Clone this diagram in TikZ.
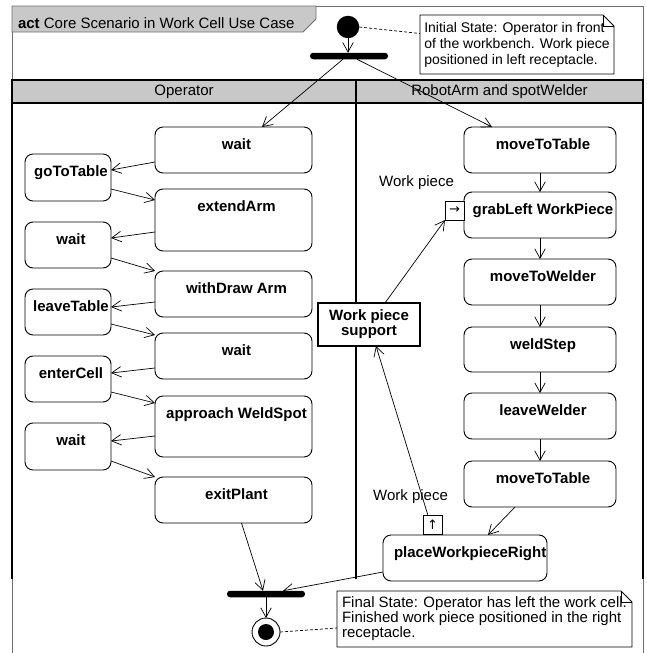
\documentclass[tikz,border=0pt]{standalone}
\usepackage{fontspec}
\setmainfont{Liberation Sans}
\newfontfamily\symfont{DejaVu Sans}
\usetikzlibrary{arrows.meta,calc}
\definecolor{hdrgray}{RGB}{200,200,200}
\definecolor{framegray}{RGB}{110,110,110}
\newcommand\act[6]{%
  \node[actbox, minimum width=#4pt, minimum height=#5pt] (#1) at (#2,#3) {};
  \node[acttxt] (#1-t) at ([xshift=3pt,yshift=-22.5pt]#1.north) {#6};}
\begin{document}
\begin{tikzpicture}[x=1pt,y=-1pt,
  every node/.style={font=\fontsize{15}{15}\selectfont, inner sep=0pt, outer sep=0pt},
  actbox/.style={draw, rounded corners=8pt, line width=0.9pt, anchor=north west, fill=white},
  acttxt/.style={font=\fontsize{15}{15}\selectfont\bfseries, anchor=base},
  arr/.style={-{Straight Barb[length=9.5pt,width=10.5pt]}, line width=0.7pt},
  lanel/.style={line width=2.4pt, line cap=rect},
  notel/.style={line width=0.8pt},
  pinbox/.style={draw, fill=white, line width=0.8pt, minimum size=19pt, font=\fontsize{13}{13}\symfont},
  barnode/.style={fill=black, rounded corners=3pt, minimum height=6.5pt},
  flowdash/.style={line width=0.7pt, dash pattern=on 3pt off 2pt}]
\useasboundingbox (0,0) rectangle (647,653);
% frame and title tab
\draw[framegray, line width=0.9pt] (12,653) -- (12,6) -- (643,6) -- (643,653);
\filldraw[fill=hdrgray, draw=framegray, line width=0.9pt] (12,6) -- (316,6) -- (316,19) -- (303,32) -- (12,32) -- cycle;
\node[anchor=base west] (title) at (18,28) {\textbf{act} Core Scenario in Work Cell Use Case};
% swimlanes
\fill[hdrgray] (12,80) rectangle (643,103);
\node (h-op) at (184,92) {Operator};
\node (h-rb) at (499.5,92) {RobotArm and spotWelder};
\draw[lanel] (12,578) -- (12,80) -- (643,80) -- (643,578);
\draw[lanel] (12,103) -- (643,103);
\draw[lanel] (356,80) -- (356,578);
% initial, fork
\node[circle, fill=black, minimum size=22.5pt] (init) at (348,27) {};
\node[barnode, minimum width=78pt] (fork) at (349,56) {};
% top note
\node[anchor=north west, minimum width=194pt, minimum height=59pt, align=left, fill=white,
  font=\fontsize{14}{16}\selectfont] (note1) at (420,15)
  {Initial State: Operator in front\\of the workbench. Work piece\\positioned in left receptacle.};
\draw[notel] (note1.north west) -- ([xshift=-11pt]note1.north east) -- ([yshift=-11pt]note1.north east) -- (note1.south east) -- (note1.south west) -- cycle;
\draw[notel] ([xshift=-11pt]note1.north east) -- ([xshift=-11pt,yshift=-11pt]note1.north east) -- ([yshift=-11pt]note1.north east);
\draw[flowdash] (init.east) -- ([yshift=11pt]note1.west);
% operator lane
\act{wR1}{155}{127}{157}{46}{wait}
\act{ext}{155}{189}{157}{62}{extendArm}
\act{wd}{155}{271}{157}{46}{withDraw Arm}
\act{wR2}{155}{333}{157}{46}{wait}
\act{app}{155}{396}{157}{61}{approach WeldSpot}
\act{exit}{155}{477}{157}{46}{exitPlant}
\act{gtt}{25}{154}{86}{47}{goToTable}
\act{wL1}{25}{222}{86}{46}{wait}
\act{lt}{25}{289}{86}{46}{leaveTable}
\act{ec}{25}{356}{86}{46}{enterCell}
\act{wL2}{25}{423}{86}{47}{wait}
% robot lane
\act{mtt}{464}{127}{152}{46}{moveToTable}
\act{grab}{464}{192}{152}{46}{grabLeft WorkPiece}
\act{mtw}{464}{259}{152}{46}{moveToWelder}
\act{weld}{464}{327}{152}{45}{weldStep}
\act{lw}{464}{393}{152}{46}{leaveWelder}
\act{mtt2}{464}{461}{152}{46}{moveToTable}
\node[actbox, minimum width=164pt, minimum height=46pt] (pwr) at (383,535) {};
\node[acttxt, anchor=base west] (pwr-t) at ([xshift=11pt,yshift=-22.5pt]pwr.north west) {placeWorkpieceRight};
% object node and pins
\node[draw, fill=white, line width=1.2pt, minimum width=102pt, minimum height=43pt, align=center,
  font=\fontsize{15}{15}\selectfont\bfseries] (sup) at (369,324.5) {Work piece\\support};
\node[pinbox] (pin1) at (454.5,210.5) {→};
\node[pinbox] (pin2) at (432.5,525) {↑};
\node (wp1) at (416.5,183) {Work piece};
\node (wp2) at (410.5,497) {Work piece};
% join, final
\node[barnode, minimum width=78pt] (join) at (266,594) {};
\node[circle, draw, line width=0.9pt, fill=white, minimum size=28pt] (final) at (266,632) {};
\node[circle, fill=black, minimum size=16pt] (finaldot) at (final.center) {};
\node[anchor=north west, minimum width=295pt, minimum height=56pt, align=left, fill=white] (note2) at (337,591)
  {Final State: Operator has left the work cell.\\Finished work piece positioned in the right\\receptacle.};
\draw[notel] (note2.north west) -- ([xshift=-11pt]note2.north east) -- ([yshift=-11pt]note2.north east) -- (note2.south east) -- (note2.south west) -- cycle;
\draw[notel] ([xshift=-11pt]note2.north east) -- ([xshift=-11pt,yshift=-11pt]note2.north east) -- ([yshift=-11pt]note2.north east);
\draw[flowdash] (final.east) -- ([yshift=-9pt]note2.west);
% control flows
\draw[arr] (init.south) -- (init.south |- fork.north);
\draw[arr] ([xshift=-6pt]fork.south) -- ([xshift=28.5pt]wR1.north);
\draw[arr] ([xshift=8pt]fork.south) -- ([xshift=-48pt]mtt.north);
\draw[arr] ([yshift=-12pt]wR1.west) -- ([yshift=7.5pt]gtt.east);
\draw[arr] ([yshift=-11.5pt]gtt.east) -- ([yshift=20pt]ext.west);
\draw[arr] ([yshift=-12pt]ext.west) -- ([yshift=7pt]wL1.east);
\draw[arr] ([yshift=-13pt]wL1.east) -- ([yshift=23pt]wd.west);
\draw[arr] ([yshift=-8pt]wd.west) -- ([yshift=5pt]lt.east);
\draw[arr] ([yshift=-12pt]lt.east) -- ([yshift=21pt]wR2.west);
\draw[arr] ([yshift=-12pt]wR2.west) -- ([yshift=6pt]ec.east);
\draw[arr] ([yshift=-13pt]ec.east) -- ([yshift=23.5pt]app.west);
\draw[arr] ([yshift=-9.5pt]app.west) -- ([yshift=5.5pt]wL2.east);
\draw[arr] ([yshift=-14.5pt]wL2.east) -- ([yshift=23pt]exit.west);
\draw[arr] (mtt.south) -- (grab.north);
\draw[arr] (grab.south) -- (mtw.north);
\draw[arr] (mtw.south) -- (weld.north);
\draw[arr] (weld.south) -- (lw.north);
\draw[arr] (lw.south) -- (mtt2.north);
\draw[arr] ([xshift=-25pt]mtt2.south) -- ([xshift=23pt]pwr.north);
\draw[arr] ([yshift=-14pt]pwr.west) -- ([xshift=17pt]join.north);
\draw[arr] ([xshift=8pt]exit.south) -- ([xshift=-3pt]join.north);
\draw[arr] (join.south) -- (final.north);
% object flows
\draw[arr] ([xshift=16pt]sup.north) -- (pin1.south west);
\draw[arr] ([xshift=-4.5pt]pin2.north) -- ([xshift=7pt]sup.south);
\end{tikzpicture}
\end{document}
